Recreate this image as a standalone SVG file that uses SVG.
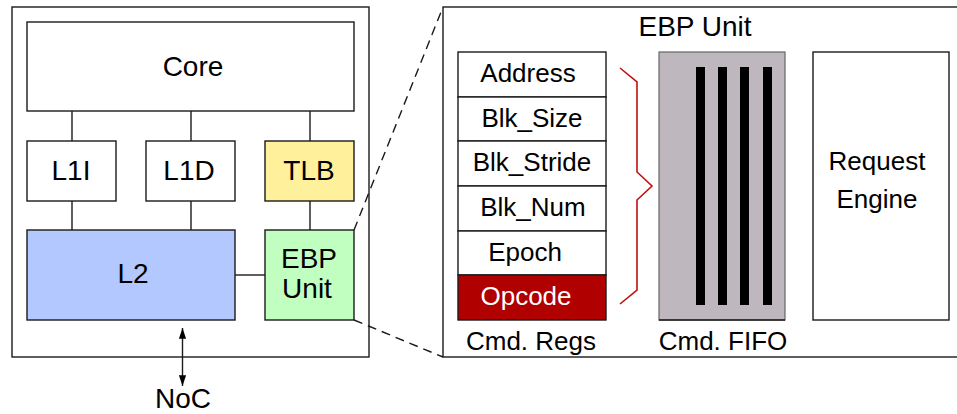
<svg xmlns="http://www.w3.org/2000/svg" width="957" height="414" viewBox="0 0 957 414">
  <style>
    .box { fill: #ffffff; stroke: #1a1a1a; stroke-width: 1.4; }
    .lbl { font-family: "Liberation Sans", Arial, sans-serif; font-size: 28px; fill: #000; text-anchor: middle; }
    .reg { font-family: "Liberation Sans", Arial, sans-serif; font-size: 26px; fill: #000; text-anchor: middle; }
    .wire { stroke: #1a1a1a; stroke-width: 1.4; fill: none; }
    .dash { stroke: #1a1a1a; stroke-width: 1.4; fill: none; stroke-dasharray: 9 6; }
  </style>
  <defs>
    <marker id="arrow" viewBox="0 0 12 10" refX="12" refY="5" markerWidth="12" markerHeight="9" markerUnits="userSpaceOnUse" orient="auto-start-reverse">
      <path d="M0,1 L12,5 L0,9 Z" fill="#000"/>
    </marker>
  </defs>
  <rect width="957" height="414" fill="#ffffff"/>

  <!-- tile outline -->
  <rect id="tile" class="box" x="12" y="7" width="357" height="350"/>

  <!-- connectors -->
  <g id="connectors">
    <line class="wire" x1="72" y1="111" x2="72" y2="141"/>
    <line class="wire" x1="191" y1="111" x2="191" y2="141"/>
    <line class="wire" x1="310" y1="111" x2="310" y2="141"/>
    <line class="wire" x1="72" y1="201" x2="72" y2="230"/>
    <line class="wire" x1="191" y1="201" x2="191" y2="230"/>
    <line class="wire" x1="310" y1="201" x2="310" y2="230"/>
    <line class="wire" x1="235" y1="275" x2="265" y2="275"/>
    <line class="wire" x1="182.5" y1="328" x2="182.5" y2="386" marker-start="url(#arrow)" marker-end="url(#arrow)"/>
    <line class="dash" x1="354" y1="230" x2="443" y2="7"/>
    <line class="dash" x1="354" y1="320" x2="443" y2="357"/>
    <line class="wire" x1="785" y1="186" x2="813" y2="186" marker-end="url(#arrow)"/>
  </g>

  <g id="core"><rect class="box" x="27" y="22" width="327" height="89"/><text class="lbl" x="193" y="76">Core</text></g>
  <g id="l1i"><rect class="box" x="27" y="141" width="89" height="60"/><text class="lbl" x="71" y="180">L1I</text></g>
  <g id="l1d"><rect class="box" x="146" y="141" width="89" height="60"/><text class="lbl" x="189" y="180">L1D</text></g>
  <g id="tlb"><rect class="box" x="265" y="141" width="89" height="60" style="fill:#fff09c"/><text class="lbl" x="309" y="180">TLB</text></g>
  <g id="l2"><rect class="box" x="27" y="230" width="208" height="90" style="fill:#b3c8ff"/><text class="lbl" x="133" y="283">L2</text></g>
  <g id="ebp"><rect class="box" x="265" y="230" width="89" height="90" style="fill:#c0ffc0"/><text class="lbl" x="309" y="268">EBP</text><text class="lbl" x="307" y="298">Unit</text></g>
  <g id="noc"><text class="lbl" x="183" y="408">NoC</text></g>

  <!-- expanded EBP unit -->
  <g id="ebp-detail">
    <rect class="box" x="443" y="7" width="520" height="350"/>
    <text class="lbl" x="695" y="36">EBP Unit</text>
  </g>

  <g id="cmd-regs">
    <rect class="box" x="458" y="52" width="148" height="45"/>
    <rect class="box" x="458" y="97" width="148" height="44"/>
    <rect class="box" x="458" y="141" width="148" height="45"/>
    <rect class="box" x="458" y="186" width="148" height="45"/>
    <rect class="box" x="458" y="231" width="148" height="44"/>
    <rect class="box" x="458" y="275" width="148" height="45" style="fill:#b00000"/>
    <text class="reg" x="528" y="82">Address</text>
    <text class="reg" x="532" y="127">Blk_Size</text>
    <text class="reg" x="532" y="171">Blk_Stride</text>
    <text class="reg" x="533" y="216">Blk_Num</text>
    <text class="reg" x="525" y="261">Epoch</text>
    <text class="reg" x="526" y="305" style="fill:#ffffff">Opcode</text>
    <text class="reg" x="531" y="350">Cmd. Regs</text>
  </g>

  <path id="brace" d="M620,68 L637,82 L637,172 L652,186 L637,200 L637,290 L620,304" fill="none" stroke="#c01010" stroke-width="1.6"/>

  <g id="cmd-fifo">
    <rect x="659" y="52" width="126" height="268" fill="#bfb7be" stroke="#666" stroke-width="1.2"/>
    <line x1="659" y1="320" x2="785" y2="320" class="wire"/>
    <rect x="696" y="67" width="9" height="238" fill="#000"/>
    <rect x="718" y="67" width="9" height="238" fill="#000"/>
    <rect x="740" y="67" width="9" height="238" fill="#000"/>
    <rect x="763" y="67" width="9" height="238" fill="#000"/>
    <text class="reg" x="723" y="350">Cmd. FIFO</text>
  </g>

  <g id="request-engine">
    <rect class="box" x="813" y="52" width="136" height="268"/>
    <text class="reg" x="877" y="170">Request</text>
    <text class="reg" x="877" y="208">Engine</text>
  </g>
</svg>
